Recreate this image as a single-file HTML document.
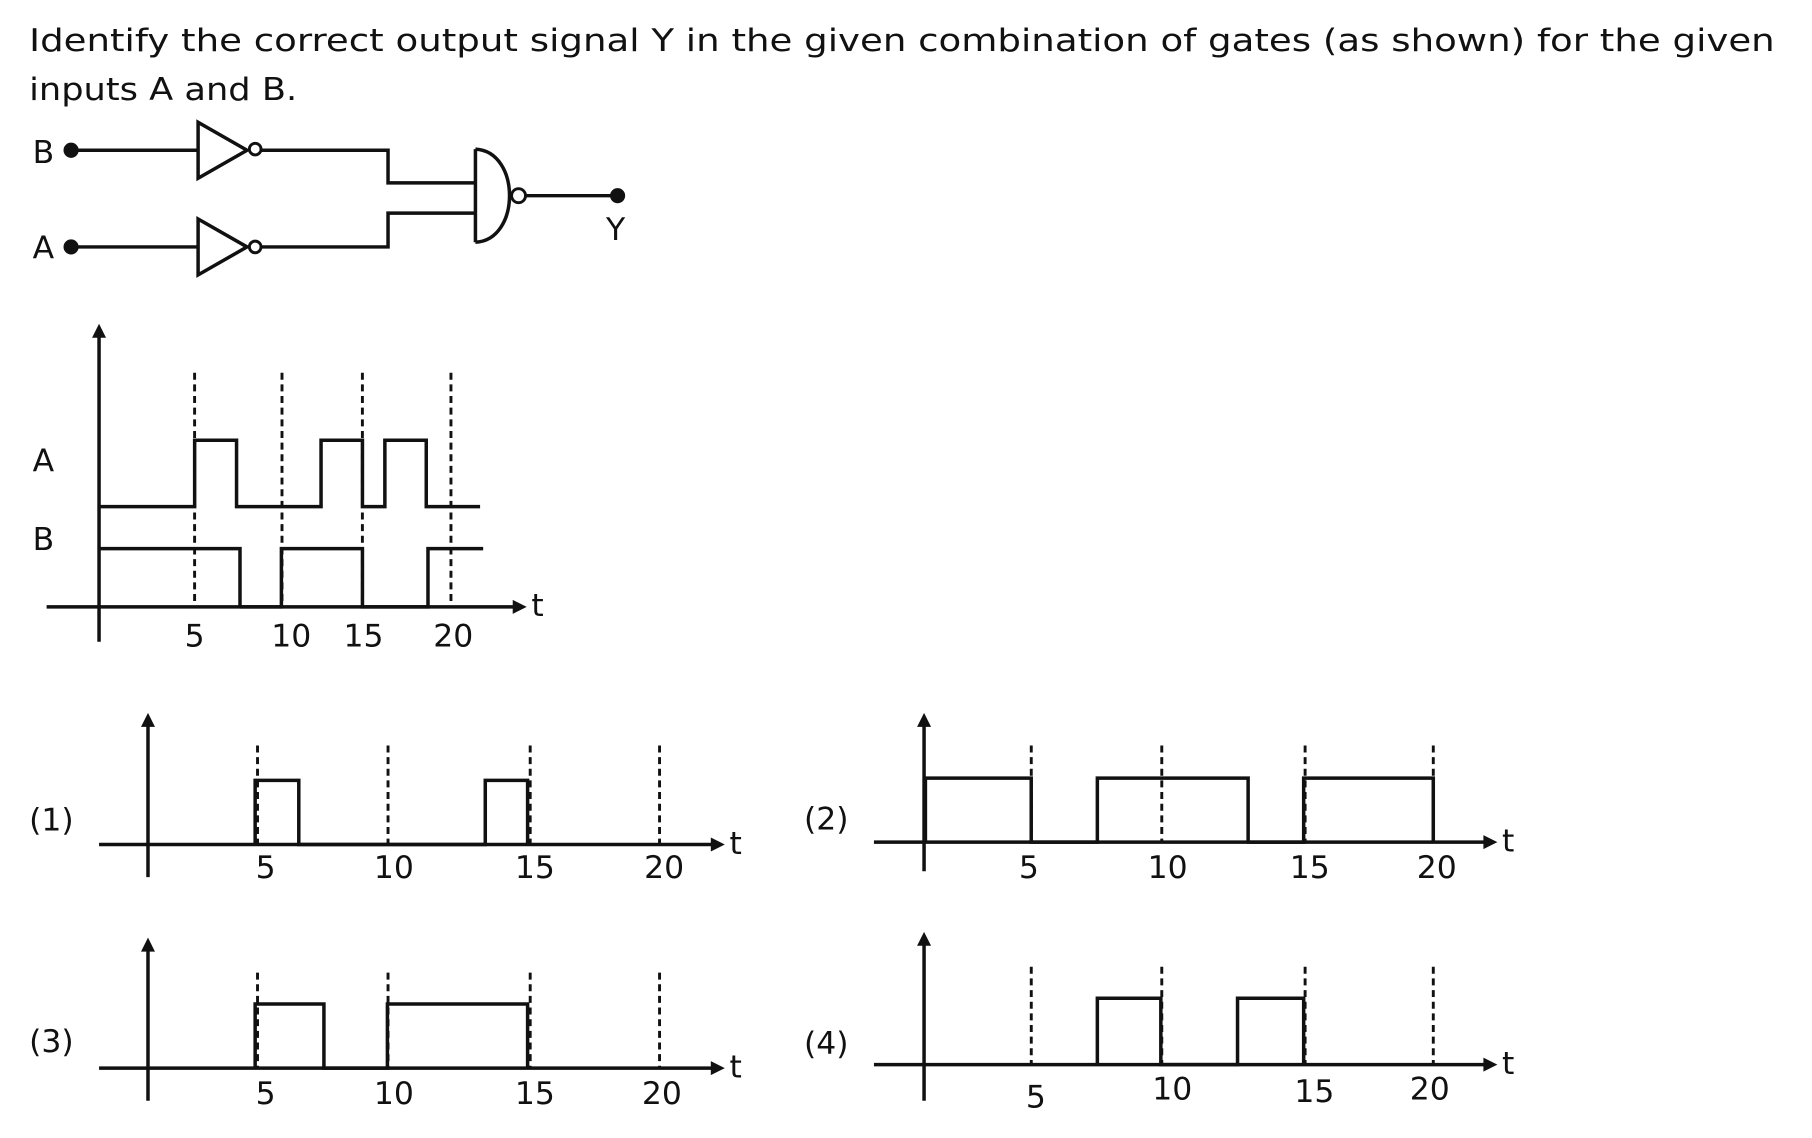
<!DOCTYPE html>
<html><head><meta charset="utf-8"><style>
html,body{margin:0;padding:0;background:#fff}
svg{display:block}
text{font-family:"DejaVu Sans","Liberation Sans",sans-serif;fill:#111}
</style></head><body>
<svg id="s" width="1812" height="1138" viewBox="0 0 1555 977" preserveAspectRatio="none" xmlns="http://www.w3.org/2000/svg">
<text x="25" y="44" font-size="27" textLength="1498" lengthAdjust="spacingAndGlyphs">Identify the correct output signal Y in the given combination of gates (as shown) for the given</text>
<text x="25" y="86" font-size="27" textLength="230" lengthAdjust="spacingAndGlyphs">inputs A and B.</text>
<g stroke="#111" stroke-width="3" fill="none">
<text x="28" y="140" font-size="27" stroke="none">B</text>
<text x="28" y="222" font-size="27" stroke="none">A</text>
<circle cx="61" cy="129" r="5" fill="#111"/>
<circle cx="61" cy="212" r="5" fill="#111"/>
<path d="M61 129H170M170 105V153L212 129Z"/>
<circle cx="219" cy="128" r="5" stroke-width="2.5"/>
<path d="M224 129H333V157H408"/>
<path d="M61 212H170M170 188V236L212 212Z"/>
<circle cx="219" cy="212" r="5" stroke-width="2.5"/>
<path d="M224 212H333V183H408"/>
<path d="M408 128V208M408 128C447 130 447 206 408 208"/>
<circle cx="445" cy="168" r="6" stroke-width="2.5"/>
<path d="M451 168H530"/>
<circle cx="530" cy="168" r="5" fill="#111"/>
<text x="520" y="206" font-size="27" stroke="none">Y</text>
</g>
<g id="charts"></g>
</svg>
<script>
// Input chart data (time units)
const inputTicks = [5, 10, 15, 20];
const inputTickLabels = ["5", "10", "15", "20"];
const signalA = [[5.07, 7.5], [12.4, 14.8], [16.1, 18.5]];
const signalB = [[-0.5, 7.7], [10.1, 14.8], [18.6, 21.8]];
// Option charts
const optTicks = [5, 10, 15, 20];
const optTickLabels = ["5", "10", "15", "20"];
const option1 = [[4.8, 6.45], [13.5, 15.1]];
const option2 = [[0.8, 4.8], [7.3, 13.0], [15.1, 20.0]];
const option3 = [[4.8, 7.4], [9.8, 15.1]];
const option4 = [[7.3, 9.7], [12.6, 15.1]];

const NS = "http://www.w3.org/2000/svg";
const root = document.getElementById('charts');
function el(tag, attrs, parent) {
  const e = document.createElementNS(NS, tag);
  for (const k in attrs) e.setAttribute(k, attrs[k]);
  parent.appendChild(e);
  return e;
}
function pulses(g, data, xs, yLow, yHigh, xStart, xEnd, openLast) {
  let d = "M" + xStart + " " + yLow;
  data.forEach((p, i) => {
    const a = xs(p[0]), b = xs(p[1]);
    d += "H" + a + "V" + yHigh + "H" + b;
    if (!(openLast && i === data.length - 1)) d += "V" + yLow;
  });
  if (xEnd !== null) d += "H" + xEnd;
  const path = el('path', {d: d, stroke: '#111', 'stroke-width': 3, fill: 'none'}, g);
  
  
}
function axes(g, ax, yTop, yBot, tx0, tx1, ty) {
  el('path', {d: `M${ax} ${yBot}V${yTop+10}`, stroke: '#111', 'stroke-width': 3}, g);
  el('path', {d: `M${ax-6} ${yTop+12}L${ax} ${yTop}L${ax+6} ${yTop+12}Z`, fill: '#111'}, g);
  el('path', {d: `M${tx0} ${ty}H${tx1-10}`, stroke: '#111', 'stroke-width': 3}, g);
  el('path', {d: `M${tx1-12} ${ty-6}L${tx1} ${ty}L${tx1-12} ${ty+6}Z`, fill: '#111'}, g);
  const t = el('text', {x: tx1 + 4, y: ty + 8, 'font-size': 27}, g);
  t.textContent = 't';
}

// Input chart
{
  const g = el('g', {}, root);
  
  
  const xs = t => 92 + 14.8 * t;
  axes(g, 85, 278, 551, 40, 452, 521);
  const dashX = [167, 242, 311, 387];
  inputTicks.forEach((v, i) => {
    const x = dashX[i];
    const dl = el('path', {d: `M${x} 320V521`, stroke: '#111', 'stroke-width': 2.5, 'stroke-dasharray': '6 4'}, g);
    
    
  });
  const lblX = [167, 250, 312, 389];
  inputTickLabels.forEach((s, i) => {
    const t = el('text', {x: lblX[i], y: 555, 'font-size': 27, 'text-anchor': 'middle'}, g);
    
    
    t.textContent = s;
  });
  pulses(g, signalA, xs, 435, 378, 85, 412, false);
  pulses(g, signalB.slice(1), xs, 521, 471, 206, null, true);
  el('path', {d: `M85 471H${xs(signalB[0][1])}V521`, stroke: '#111', 'stroke-width': 3, fill: 'none'}, g);
  const la = el('text', {x: 28, y: 405, 'font-size': 27}, g); la.textContent = 'A';
  const lb = el('text', {x: 28, y: 472, 'font-size': 27}, g); lb.textContent = 'B';
}

// Option charts
const panels = [
  {name: 'option-1-chart', label: '(1)', ax: 127, x0: 110, tx0: 85, tx1: 622, ty: 725, high: 670, top: 612, bot: 753, dash: [221, 333, 455, 566], dashTop: 640, lx: 25, ly: 713, tl: [228, 338, 459, 570], tly: 758},
  {name: 'option-2-chart', label: '(2)', ax: 793, x0: 776, tx0: 750, tx1: 1285, ty: 723, high: 668, top: 612, bot: 748, dash: [885, 997, 1120, 1230], dashTop: 640, lx: 690, ly: 712, tl: [883, 1002, 1124, 1233], tly: 758},
  {name: 'option-3-chart', label: '(3)', ax: 127, x0: 110, tx0: 85, tx1: 622, ty: 917, high: 862, top: 805, bot: 945, dash: [221, 333, 455, 566], dashTop: 835, lx: 25, ly: 903, tl: [228, 338, 459, 568], tly: 952},
  {name: 'option-4-chart', label: '(4)', ax: 793, x0: 776, tx0: 750, tx1: 1285, ty: 914, high: 857, top: 800, bot: 945, dash: [885, 997, 1120, 1230], dashTop: 830, lx: 690, ly: 905, tl: [889, 1006, 1128, 1227], tly: [955, 948, 950, 948]},
];
const optionData = [option1, option2, option3, option4];
panels.forEach((p, pi) => {
  const g = el('g', {}, root);
  
  
  const xs = t => p.x0 + 22.7 * t;
  axes(g, p.ax, p.top, p.bot, p.tx0, p.tx1, p.ty);
  optTicks.forEach((v, i) => {
    const dl = el('path', {d: `M${p.dash[i]} ${p.dashTop}V${p.ty}`, stroke: '#111', 'stroke-width': 2.5, 'stroke-dasharray': '6 4'}, g);
    
    
  });
  optTickLabels.forEach((s, i) => {
    const y = (Array.isArray(p.tly) ? p.tly[i] : p.tly) - 4;
    const t = el('text', {x: p.tl[i], y: y, 'font-size': 27, 'text-anchor': 'middle'}, g);
    
    
    t.textContent = s;
  });
  const d = optionData[pi];
  pulses(g, d, xs, p.ty, p.high, Math.max(p.ax, xs(d[0][0])), null, false);
  const lab = el('text', {x: p.lx, y: p.ly, 'font-size': 27}, g);
  
  
  lab.textContent = p.label;
});
</script>
</body></html>
